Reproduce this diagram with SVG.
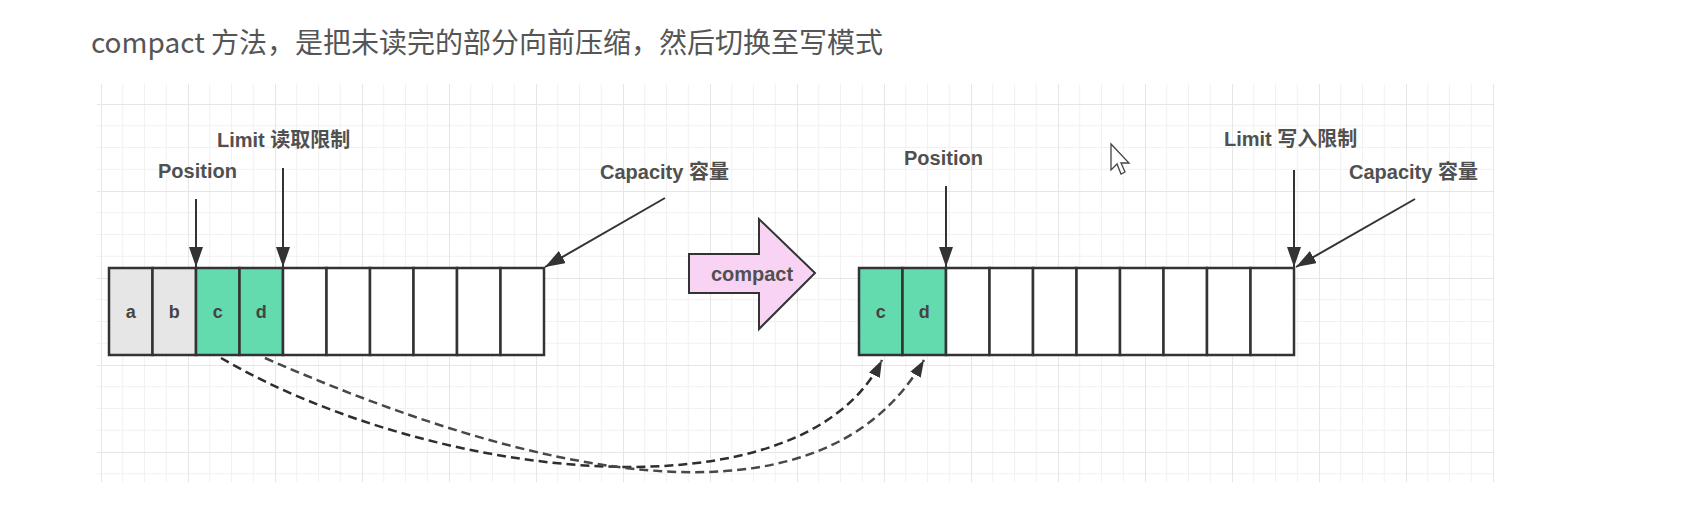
<svg xmlns="http://www.w3.org/2000/svg" width="1696" height="506" viewBox="0 0 1696 506">
<style>
.lbl{font-family:"Liberation Sans","Noto Sans CJK SC",sans-serif;font-weight:bold;font-size:20px;fill:#505050}
.cell{stroke:#333;stroke-width:2.5}
.empty{fill:#fff}
.gray{fill:#e6e6e6}
.green{fill:#64dbaf}
.ch{font-family:"Liberation Sans",sans-serif;font-weight:bold;font-size:18px;fill:#444;text-anchor:middle}
.ptr{stroke:#333;stroke-width:2;fill:none}
.dash{fill:none;stroke-width:2.5;stroke-dasharray:9 5}
</style>
<defs>
<pattern id="grid" patternUnits="userSpaceOnUse" x="101" y="17" width="87" height="87">
<path d="M21.75 0V87M43.5 0V87M65.25 0V87M0 21.75H87M0 43.5H87M0 65.25H87" stroke="#f1f1f1" stroke-width="1" fill="none"/>
<path d="M0.5 0V87M0 0.5H87" stroke="#e6e6e6" stroke-width="1" fill="none"/>
</pattern>
<marker id="ah" markerUnits="userSpaceOnUse" markerWidth="20" markerHeight="14" refX="20" refY="7" orient="auto">
<path d="M0,0 L20,7 L0,14 z" fill="#333"/>
</marker>
<marker id="ahd" markerUnits="userSpaceOnUse" markerWidth="17" markerHeight="12" refX="17" refY="6" orient="auto">
<path d="M0,0 L17,6 L0,12 z" fill="#333"/>
</marker>
</defs>
<rect width="1696" height="506" fill="#fff"/>
<rect x="97" y="84" width="1397" height="398" fill="url(#grid)"/>
<text x="91" y="53" font-family="'Noto Sans CJK SC','Liberation Sans',sans-serif" font-size="28" fill="#555">compact 方法，是把未读完的部分向前压缩，然后切换至写模式</text>

<g id="buffer-before">
<rect class="cell gray" x="109" y="268" width="43.5" height="87"/>
<rect class="cell gray" x="152.5" y="268" width="43.5" height="87"/>
<rect class="cell green" x="196" y="268" width="43.5" height="87"/>
<rect class="cell green" x="239.5" y="268" width="43.5" height="87"/>
<rect class="cell empty" x="283" y="268" width="43.5" height="87"/>
<rect class="cell empty" x="326.5" y="268" width="43.5" height="87"/>
<rect class="cell empty" x="370" y="268" width="43.5" height="87"/>
<rect class="cell empty" x="413.5" y="268" width="43.5" height="87"/>
<rect class="cell empty" x="457" y="268" width="43.5" height="87"/>
<rect class="cell empty" x="500.5" y="268" width="43.5" height="87"/>
<text class="ch" x="130.75" y="318">a</text>
<text class="ch" x="174.25" y="318">b</text>
<text class="ch" x="217.75" y="318">c</text>
<text class="ch" x="261.25" y="318">d</text>
</g>

<g id="buffer-after">
<rect class="cell green" x="859" y="268" width="43.5" height="87"/>
<rect class="cell green" x="902.5" y="268" width="43.5" height="87"/>
<rect class="cell empty" x="946" y="268" width="43.5" height="87"/>
<rect class="cell empty" x="989.5" y="268" width="43.5" height="87"/>
<rect class="cell empty" x="1033" y="268" width="43.5" height="87"/>
<rect class="cell empty" x="1076.5" y="268" width="43.5" height="87"/>
<rect class="cell empty" x="1120" y="268" width="43.5" height="87"/>
<rect class="cell empty" x="1163.5" y="268" width="43.5" height="87"/>
<rect class="cell empty" x="1207" y="268" width="43.5" height="87"/>
<rect class="cell empty" x="1250.5" y="268" width="43.5" height="87"/>
<text class="ch" x="880.75" y="318">c</text>
<text class="ch" x="924.25" y="318">d</text>
</g>

<g id="compact-arrow">
<polygon points="689,254 759,254 759,219 815,273 759,329 759,293 689,293" fill="#f8d3f3" stroke="#333" stroke-width="2"/>
<text class="lbl" x="752" y="281" text-anchor="middle" fill="#444">compact</text>
</g>

<g id="labels">
<text class="lbl" x="158" y="178">Position</text>
<text class="lbl" x="217" y="147">Limit 读取限制</text>
<text class="lbl" x="600" y="179">Capacity 容量</text>
<text class="lbl" x="904" y="165">Position</text>
<text class="lbl" x="1224" y="146">Limit 写入限制</text>
<text class="lbl" x="1349" y="179">Capacity 容量</text>
</g>

<g id="connectors">
<line class="ptr" x1="196" y1="199" x2="196" y2="267" marker-end="url(#ah)"/>
<line class="ptr" x1="283" y1="168" x2="283" y2="267" marker-end="url(#ah)"/>
<line class="ptr" x1="665" y1="198" x2="545" y2="267" marker-end="url(#ah)"/>
<line class="ptr" x1="946" y1="186" x2="946" y2="267" marker-end="url(#ah)"/>
<line class="ptr" x1="1294" y1="170" x2="1294" y2="267" marker-end="url(#ah)"/>
<line class="ptr" x1="1415" y1="199" x2="1296" y2="267" marker-end="url(#ah)"/>
<path class="dash" stroke="#2e2e2e" d="M221 358 C430 480 800 524 882 360" marker-end="url(#ahd)"/>
<path class="dash" stroke="#484848" d="M265 358 C520 470 817 545 924 360" marker-end="url(#ahd)"/>
</g>

<g id="cursor">
<path d="M1111,144 L1111,170 L1117,164 L1121,174 L1125,172 L1121,163 L1129,163 Z" fill="#fff" stroke="#444" stroke-width="1.3"/>
</g>
</svg>
